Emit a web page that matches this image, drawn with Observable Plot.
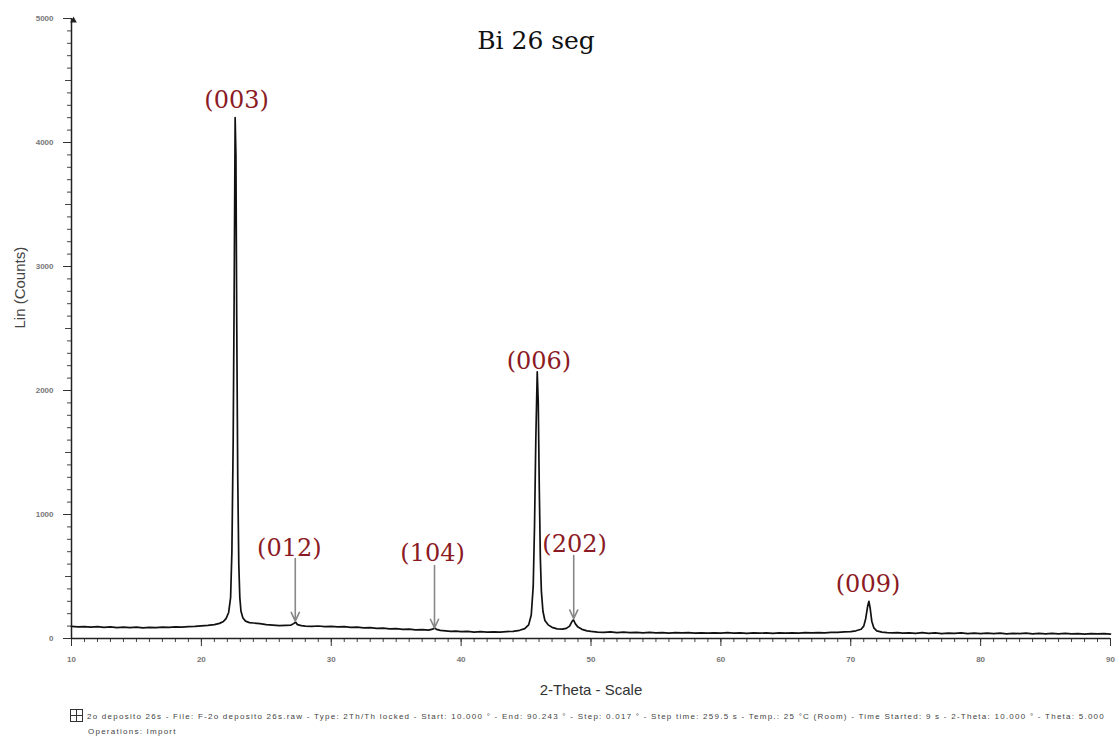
<!DOCTYPE html>
<html>
<head>
<meta charset="utf-8">
<script src="https://cdn.jsdelivr.net/npm/d3@7"></script>
<script src="https://cdn.jsdelivr.net/npm/@observablehq/plot@0.6"></script>
<style>
  body { margin: 0; background: #fff; }
  #wrap { position: relative; width: 1116px; height: 736px; overflow: hidden; }
  #chart svg { display: block; }
  .caption { position: absolute; left: 70px; top: 709px; font-family: "Liberation Sans", Arial, sans-serif;
             font-size: 8px; color: #444; line-height: 15px; letter-spacing: 1.25px; white-space: nowrap; }
  .icon { display: inline-block; width: 11px; height: 11px; border: 1px solid #333; vertical-align: -3px; margin-right: 4px;
          background: linear-gradient(#333,#333) 5px 0/1px 100% no-repeat, linear-gradient(#333,#333) 0 5px/100% 1px no-repeat; }
  .line2 { padding-left: 18px; }
</style>
</head>
<body>
<div id="wrap">
  <div id="chart"></div>
  <div class="caption">
    <div><span class="icon"></span>2o deposito 26s - File: F-2o deposito 26s.raw - Type: 2Th/Th locked - Start: 10.000 ° - End: 90.243 ° - Step: 0.017 ° - Step time: 259.5 s - Temp.: 25 °C (Room) - Time Started: 9 s - 2-Theta: 10.000 ° - Theta: 5.000</div>
    <div class="line2">Operations: Import</div>
  </div>
</div>
<script>
const twoTheta = [
  10.0,10.5,11.0,11.5,12.0,12.5,13.0,13.5,14.0,14.5,15.0,15.5,16.0,16.5,17.0,17.5,18.0,18.5,19.0,19.5,
  20.0,20.5,21.0,21.4,21.7,21.9,22.1,22.25,22.35,22.45,22.52,22.6,22.66,22.72,22.8,22.88,22.96,23.05,23.2,23.4,
  23.7,24.0,24.5,25.0,25.5,26.0,26.5,26.9,27.1,27.25,27.4,27.7,28.0,28.5,29.0,29.5,30.0,30.5,31.0,31.5,
  32.0,32.5,33.0,33.5,34.0,34.5,35.0,35.5,36.0,36.5,37.0,37.5,37.8,37.95,38.1,38.4,38.8,39.2,39.6,40.0,
  40.5,41.0,41.5,42.0,42.5,43.0,43.5,44.0,44.5,44.9,45.2,45.4,45.55,45.65,45.75,45.86,45.94,46.02,46.1,46.18,
  46.3,46.45,46.7,47.0,47.4,47.8,48.1,48.35,48.55,48.65,48.8,49.0,49.3,49.7,50.0,50.5,51.0,51.5,52.0,52.5,
  53.0,53.5,54.0,54.5,55.0,55.5,56.0,56.5,57.0,57.5,58.0,58.5,59.0,59.5,60.0,60.5,61.0,61.5,62.0,62.5,
  63.0,63.5,64.0,64.5,65.0,65.5,66.0,66.5,67.0,67.5,68.0,68.5,69.0,69.5,70.0,70.4,70.8,71.0,71.15,71.3,
  71.4,71.5,71.62,71.78,72.0,72.4,72.8,73.2,73.6,74.0,74.5,75.0,75.5,76.0,76.5,77.0,77.5,78.0,78.5,79.0,
  79.5,80.0,80.5,81.0,81.5,82.0,82.5,83.0,83.5,84.0,84.5,85.0,85.5,86.0,86.5,87.0,87.5,88.0,88.5,89.0,
  89.5,90.0
];
const counts = [
  98,93,96,91,95,90,94,88,92,87,91,86,90,88,92,89,93,91,96,98,
  102,106,112,122,138,160,210,330,700,1600,2700,4200,3900,2600,1300,600,330,220,165,140,
  128,125,120,112,108,104,106,108,120,132,112,104,100,98,101,96,98,93,95,90,
  92,86,88,82,84,78,80,74,75,70,72,68,75,84,74,66,62,58,60,55,
  57,52,55,51,54,52,56,58,66,80,110,190,420,900,1600,2150,1900,1200,650,380,
  220,145,110,90,78,76,82,100,140,150,118,92,74,62,57,52,50,53,48,51,
  47,50,46,49,45,48,44,47,45,48,44,46,43,46,44,47,43,45,42,46,
  43,45,42,45,43,46,44,47,45,48,46,50,49,53,56,62,75,100,160,260,
  300,240,140,85,62,52,48,45,47,44,46,42,47,41,45,40,44,41,45,40,
  43,39,44,40,43,38,42,39,43,38,41,37,42,38,41,37,40,36,40,37,
  39,36
];
const peakLabels = ["(003)", "(012)", "(104)", "(006)", "(202)", "(009)"];
const labelTheta = [22.71, 26.77, 37.8, 45.99, 48.74, 71.33];
const labelCounts = [4282, 669, 629, 2177, 694, 379];
const arrowTheta = [27.23, 37.95, 48.67];
const arrowFrom = [645, 589, 669];
const arrowTo = [140, 85, 160];
const yMajorTicks = [0, 1000, 2000, 3000, 4000, 5000];
const xMajorTicks = [10, 20, 30, 40, 50, 60, 70, 80, 90];

const pattern = twoTheta.map((t, i) => ({t, c: counts[i]}));
const labels = peakLabels.map((s, i) => ({s, t: labelTheta[i], c: labelCounts[i]}));
const arrows = arrowTheta.map((t, i) => ({t, c1: arrowFrom[i], c2: arrowTo[i]}));

const tickFont = "'Liberation Sans Narrow', 'Liberation Sans', Arial, sans-serif";
const blank = () => "";

const chart = Plot.plot({
  width: 1116,
  height: 700,
  marginLeft: 71,
  marginRight: 6,
  marginTop: 18,
  marginBottom: 62,
  style: {background: "#fff", color: "#333"},
  x: {domain: [10, 90]},
  y: {domain: [0, 5000]},
  marks: [
    Plot.axisX({ticks: d3.range(10, 91, 1), tickSize: 4, tickFormat: blank, label: null, stroke: "#444"}),
    Plot.axisX({ticks: xMajorTicks, tickSize: 8, tickPadding: 10, tickFormat: "d", label: null, fontSize: 8, fontWeight: "bold", fill: "#777", stroke: "#333", fontFamily: tickFont}),
    Plot.axisY({ticks: d3.range(0, 5001, 100), tickSize: 4, tickFormat: blank, label: null, stroke: "#444"}),
    Plot.axisY({ticks: d3.range(500, 5000, 1000), tickSize: 6, tickFormat: blank, label: null, stroke: "#444"}),
    Plot.axisY({ticks: yMajorTicks, tickSize: 8, tickPadding: 10, tickFormat: "d", label: null, fontSize: 8, fontWeight: "bold", fill: "#777", stroke: "#333", fontFamily: tickFont}),
    Plot.ruleY([0], {stroke: "#222", strokeWidth: 1.5}),
    Plot.ruleX([10], {stroke: "#222", strokeWidth: 1.5}),
    Plot.dot([5000], {x: () => 10, y: d => d, symbol: "triangle", r: 2.5, fill: "#222", dx: 2, dy: 2}),
    Plot.line(pattern, {x: "t", y: "c", stroke: "#111", strokeWidth: 1.7}),
    Plot.arrow(arrows, {x1: "t", y1: "c1", x2: "t", y2: "c2", stroke: "#888", strokeWidth: 1.6, headLength: 9, headAngle: 50}),
    Plot.text(labels, {x: "t", y: "c", text: "s", lineAnchor: "bottom", fill: "#8b1a24", fontSize: 24, fontFamily: "'DejaVu Serif', serif"}),
    Plot.text(["Bi 26 seg"], {frameAnchor: "top", dx: -55, dy: 22, lineAnchor: "middle", fill: "#111", fontSize: 25, fontFamily: "'DejaVu Serif', serif"}),
    Plot.text(["Lin (Counts)"], {frameAnchor: "left", dx: -51, rotate: -90, fill: "#444", fontSize: 15, fontFamily: "'Liberation Sans', Arial, sans-serif"}),
    Plot.text(["2-Theta - Scale"], {frameAnchor: "bottom", dy: 52, lineAnchor: "middle", fill: "#333", fontSize: 15, fontFamily: "'Liberation Sans', Arial, sans-serif"})
  ]
});
document.getElementById("chart").append(chart);
</script>
</body>
</html>
